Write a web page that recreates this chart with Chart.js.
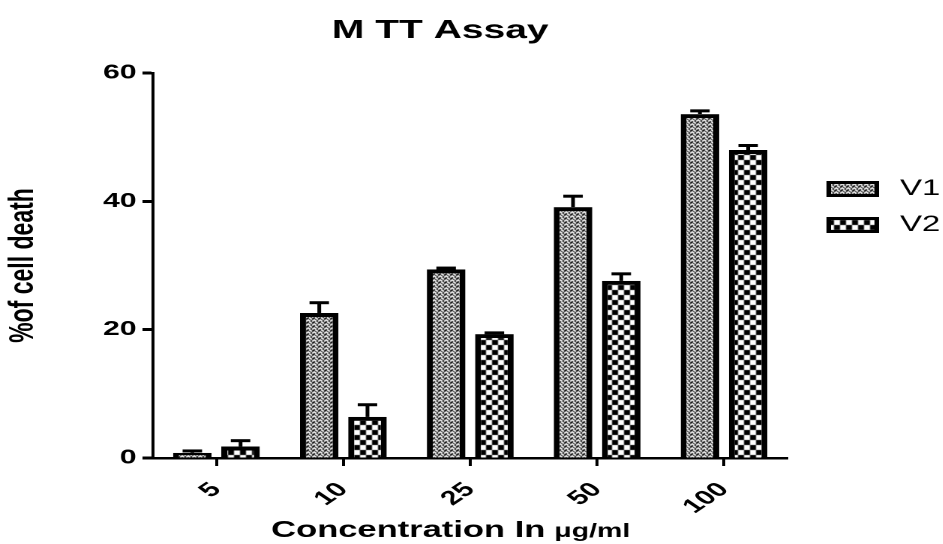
<!DOCTYPE html>
<html>
<head>
<meta charset="utf-8">
<script src="https://cdn.jsdelivr.net/npm/chart.js@4.4.1/dist/chart.umd.min.js"></script>
<style>
  html, body { margin: 0; padding: 0; background: #fff; overflow: hidden; }
  /* the plot is drawn narrow and stretched sideways, so text comes out wide */
  #wrap { width: 629px; height: 544px; transform: scale(1.5, 1); transform-origin: 0 0; }
</style>
</head>
<body>
<div id="wrap"><canvas id="mttChart" width="629" height="544"></canvas></div>
<script>
const concentrations = ['5', '10', '25', '50', '100'];
const v1Values = [0.8, 22.6, 29.4, 39.1, 53.6];
const v1Errors = [0.3, 1.6, 0.2, 1.7, 0.5];
const v2Values = [1.8, 6.4, 19.3, 27.6, 48.0];
const v2Errors = [0.9, 1.9, 0.2, 1.1, 0.7];
const yTicks = [0, 20, 40, 60];

const FONT = "'Liberation Sans', Arial, sans-serif";

// fine mesh for V1
const makeFinePattern = () => {
  const c = document.createElement('canvas');
  c.width = 4; c.height = 4;
  const g = c.getContext('2d');
  g.fillStyle = '#000';
  g.fillRect(0, 0, 4, 4);
  g.fillStyle = '#fff';
  g.fillRect(0, 0, 3, 1);
  g.fillRect(0, 1, 1, 1);
  g.fillRect(2, 1, 1, 1);
  g.fillRect(2, 2, 2, 1);
  g.fillRect(1, 3, 1, 1);
  g.fillRect(3, 3, 1, 1);
  return g.createPattern(c, 'repeat');
};

// coarse checkerboard for V2
const makeCheckPattern = () => {
  const c = document.createElement('canvas');
  c.width = 8; c.height = 10;
  const g = c.getContext('2d');
  g.fillStyle = '#fff';
  g.fillRect(0, 0, 8, 10);
  g.fillStyle = '#000';
  g.fillRect(0, 0, 4, 5);
  g.fillRect(4, 5, 4, 5);
  return g.createPattern(c, 'repeat');
};

const ctx = document.getElementById('mttChart').getContext('2d');
const finePattern = makeFinePattern();
const checkPattern = makeCheckPattern();

const errorBars = {
  id: 'errorBars',
  afterDatasetsDraw(chart) {
    const c = chart.ctx;
    const yScale = chart.scales.y;
    const errs = [v1Errors, v2Errors];
    c.save();
    c.strokeStyle = '#000';
    chart.data.datasets.forEach((ds, di) => {
      chart.getDatasetMeta(di).data.forEach((bar, i) => {
        const top = yScale.getPixelForValue(ds.data[i] + errs[di][i]);
        c.lineWidth = 2.5;
        c.beginPath();
        c.moveTo(bar.x, bar.y);
        c.lineTo(bar.x, top);
        c.stroke();
        c.lineWidth = 3;
        c.beginPath();
        c.moveTo(bar.x - 6.5, top);
        c.lineTo(bar.x + 6.5, top);
        c.stroke();
      });
    });
    c.restore();
  }
};

// title, legend boxes on the right and the two-size x axis title
const extras = {
  id: 'extras',
  afterDraw(chart) {
    const c = chart.ctx;
    const area = chart.chartArea;
    const mid = (area.left + area.right) / 2;
    c.save();
    c.fillStyle = '#000';
    c.font = `bold 26px ${FONT}`;
    c.textAlign = 'center';
    c.textBaseline = 'middle';
    c.fillText('M TT Assay', mid - 20, 31);

    const items = [
      { label: 'V1', fill: finePattern, y: 181 },
      { label: 'V2', fill: checkPattern, y: 217 }
    ];
    items.forEach(it => {
      c.fillStyle = it.fill;
      c.fillRect(area.right + 26, it.y, 35, 16);
      c.strokeStyle = '#000';
      c.lineWidth = 3;
      c.strokeRect(area.right + 27.5, it.y + 1.5, 32, 13);
      c.fillStyle = '#000';
      c.font = `22px ${FONT}`;
      c.textBaseline = 'middle';
      c.textAlign = 'left';
      c.fillText(it.label, area.right + 75, it.y + 8);
    });

    const main = 'Concentration In';
    const unit = 'μg/ml';
    c.font = `bold 23px ${FONT}`;
    const w1 = c.measureText(main).width;
    c.font = `bold 19px ${FONT}`;
    const w2 = c.measureText(unit).width;
    const gap = 6;
    const x = mid - 13 - (w1 + gap + w2) / 2;
    c.textBaseline = 'alphabetic';
    c.textAlign = 'left';
    c.font = `bold 23px ${FONT}`;
    c.fillText(main, x, 537);
    c.font = `bold 19px ${FONT}`;
    c.fillText(unit, x + w1 + gap, 537);
    c.restore();
  }
};

new Chart(ctx, {
  type: 'bar',
  data: {
    labels: concentrations,
    datasets: [{
      label: 'V1',
      data: v1Values,
      backgroundColor: finePattern,
      borderColor: '#000',
      borderWidth: 4
    }, {
      label: 'V2',
      data: v2Values,
      backgroundColor: checkPattern,
      borderColor: '#000',
      borderWidth: 4
    }]
  },
  options: {
    responsive: false,
    animation: false,
    devicePixelRatio: 2,
    categoryPercentage: 0.76,
    barPercentage: 0.8,
    layout: { padding: { left: 0, right: 104, top: 73, bottom: 0 } },
    plugins: {
      legend: { display: false },
      tooltip: { enabled: false },
      title: { display: false }
    },
    scales: {
      x: {
        grid: { offset: false, drawOnChartArea: false, tickLength: 8, tickWidth: 2, tickColor: '#000' },
        border: { color: '#000', width: 2.5 },
        ticks: {
          color: '#000',
          font: { family: FONT, size: 20, weight: 'bold' },
          minRotation: 45,
          maxRotation: 45,
          padding: 12
        },
        afterFit: (scale) => { scale.height = 86; }
      },
      y: {
        min: 0,
        max: 60,
        afterBuildTicks: (scale) => { scale.ticks = yTicks.map(v => ({ value: v })); },
        grid: { drawOnChartArea: false, tickLength: 7, tickWidth: 3, tickColor: '#000' },
        border: { color: '#000', width: 2 },
        ticks: {
          color: '#000',
          font: { family: FONT, size: 20, weight: 'bold' },
          padding: 4
        },
        title: {
          display: true,
          text: '%of cell death',
          color: '#000',
          font: { family: FONT, size: 23, weight: 'bold' },
          padding: { top: 2, bottom: 0 }
        },
        afterFit: (scale) => { scale.width = 102; }
      }
    }
  },
  plugins: [errorBars, extras]
});
</script>
</body>
</html>
